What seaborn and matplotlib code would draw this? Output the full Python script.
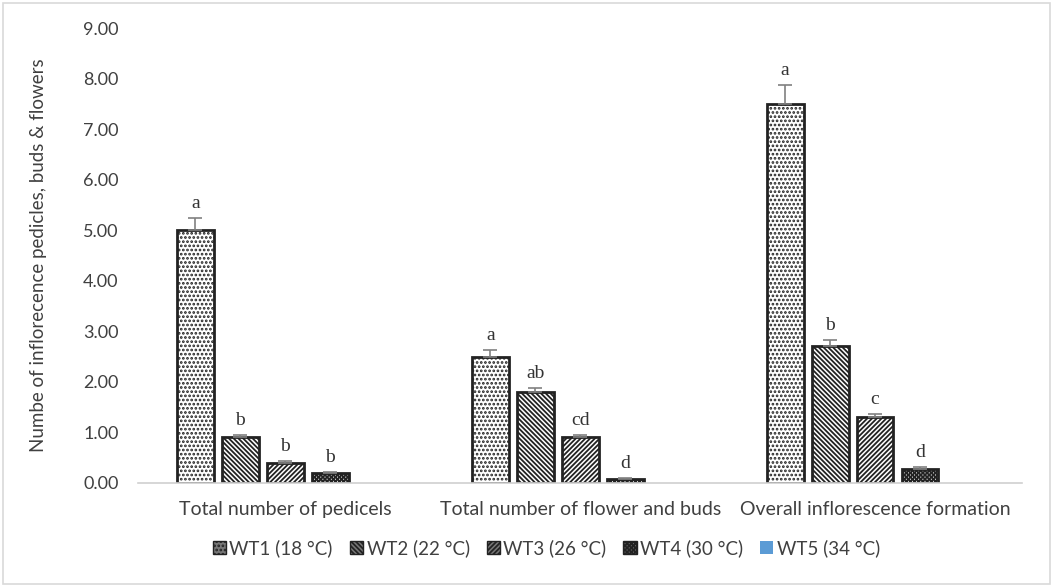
import numpy as np
import pandas as pd
import matplotlib
matplotlib.use("Agg")
import matplotlib.pyplot as plt
import seaborn as sns
from matplotlib.patches import Patch

categories = ["Total number of pedicels", "Total number of flower and buds",
              "Overall inflorescence formation"]
treatments = ["WT1 (18 °C)", "WT2 (22 °C)", "WT3 (26 °C)", "WT4 (30 °C)", "WT5 (34 °C)"]
wt1 = [5.00, 2.50, 7.50]
wt2 = [0.90, 1.80, 2.70]
wt3 = [0.40, 0.90, 1.30]
wt4 = [0.20, 0.08, 0.28]
wt5 = [0.00, 0.00, 0.00]
err1 = [0.25, 0.12, 0.38]
err2 = [0.05, 0.08, 0.13]
err3 = [0.03, 0.04, 0.07]
err4 = [0.02, 0.02, 0.03]
err5 = [0.0, 0.0, 0.0]
letters1 = ["a", "a", "a"]
letters2 = ["b", "ab", "b"]
letters3 = ["b", "cd", "c"]
letters4 = ["b", "d", "d"]

values = [wt1, wt2, wt3, wt4, wt5]
errors = [err1, err2, err3, err4, err5]
letters = [letters1, letters2, letters3, letters4, None]

rows = []
for t, vals in zip(treatments, values):
    for c, v in zip(categories, vals):
        rows.append({"category": c, "treatment": t, "value": v})
df = pd.DataFrame(rows)

sns.set_style("white")
plt.rcParams["font.family"] = ["Lato", "DejaVu Sans"]
plt.rcParams["hatch.linewidth"] = 1.3

fig = plt.figure(figsize=(10.53, 5.86), dpi=100)
ax = fig.add_axes([0.131, 0.176, 0.840, 0.776])

hatches = ["....", "\\\\\\\\\\\\\\", "///////", "xxxxxxxx", ""]
faces = ["white", "white", "white", "white", "#5B9BD5"]
palette = dict(zip(treatments, faces))

sns.barplot(data=df, x="category", y="value", hue="treatment", palette=palette,
            width=0.762, errorbar=None, ax=ax, legend=False, saturation=1)
ax.set_xlim(-0.5, 2.5)

bar_groups = list(ax.containers)
for i, cont in enumerate(bar_groups):
    for j, bar in enumerate(cont):
        # narrow each bar to leave a gap between neighbours
        w = bar.get_width()
        xc = bar.get_x() + w / 2
        bar.set_width(w * 0.82)
        bar.set_x(xc - w * 0.41)
        if i < 4:
            bar.set_hatch(hatches[i])
            bar.set_edgecolor("#222222")
            bar.set_linewidth(2)
        else:
            bar.set_edgecolor("none")
        h = bar.get_height()
        e = errors[i][j]
        if i < 4:
            ax.errorbar(xc, h, yerr=[[0], [e]], fmt="none", ecolor="#808080",
                        elinewidth=1.2, capsize=5, capthick=1.2)
            ax.text(xc, h + e + 0.12, letters[i][j], ha="center", va="bottom",
                    fontsize=14, color="#333333", family="Liberation Serif")

ax.set_ylim(0, 9)
ax.set_yticks(np.arange(0, 9.01, 1))
ax.set_yticklabels([f"{v:.2f}" for v in np.arange(0, 9.01, 1)], fontsize=13, color="#404040")
ax.tick_params(axis="x", labelsize=14, labelcolor="#404040", length=0, pad=13)
ax.tick_params(axis="y", length=0, pad=14)
ax.set_xlabel("")
ax.set_ylabel("Numbe of inflorecence pedicles, buds & flowers", fontsize=13.5,
              color="#404040", labelpad=26)
for s in ["top", "right", "left"]:
    ax.spines[s].set_visible(False)
ax.spines["bottom"].set_color("#d0d0d0")
ax.spines["bottom"].set_linewidth(1.2)

handles = []
for i, t in enumerate(treatments):
    if i < 4:
        handles.append(Patch(facecolor="#777777", edgecolor="#222222", hatch=hatches[i], label=t))
    else:
        handles.append(Patch(facecolor="#5B9BD5", edgecolor="none", label=t))
fig.legend(handles=handles, loc="center", bbox_to_anchor=(0.519, 0.064), ncol=5,
           frameon=False, fontsize=13.5, handlelength=0.7, handleheight=0.7,
           handletextpad=0.2, columnspacing=0.9, labelcolor="#404040")

fig.patches.append(plt.Rectangle((0.003, 0.003), 0.994, 0.992, transform=fig.transFigure,
                                 fill=False, edgecolor="#d9d9d9", linewidth=1.2))

fig.savefig("out.png", dpi=100)
